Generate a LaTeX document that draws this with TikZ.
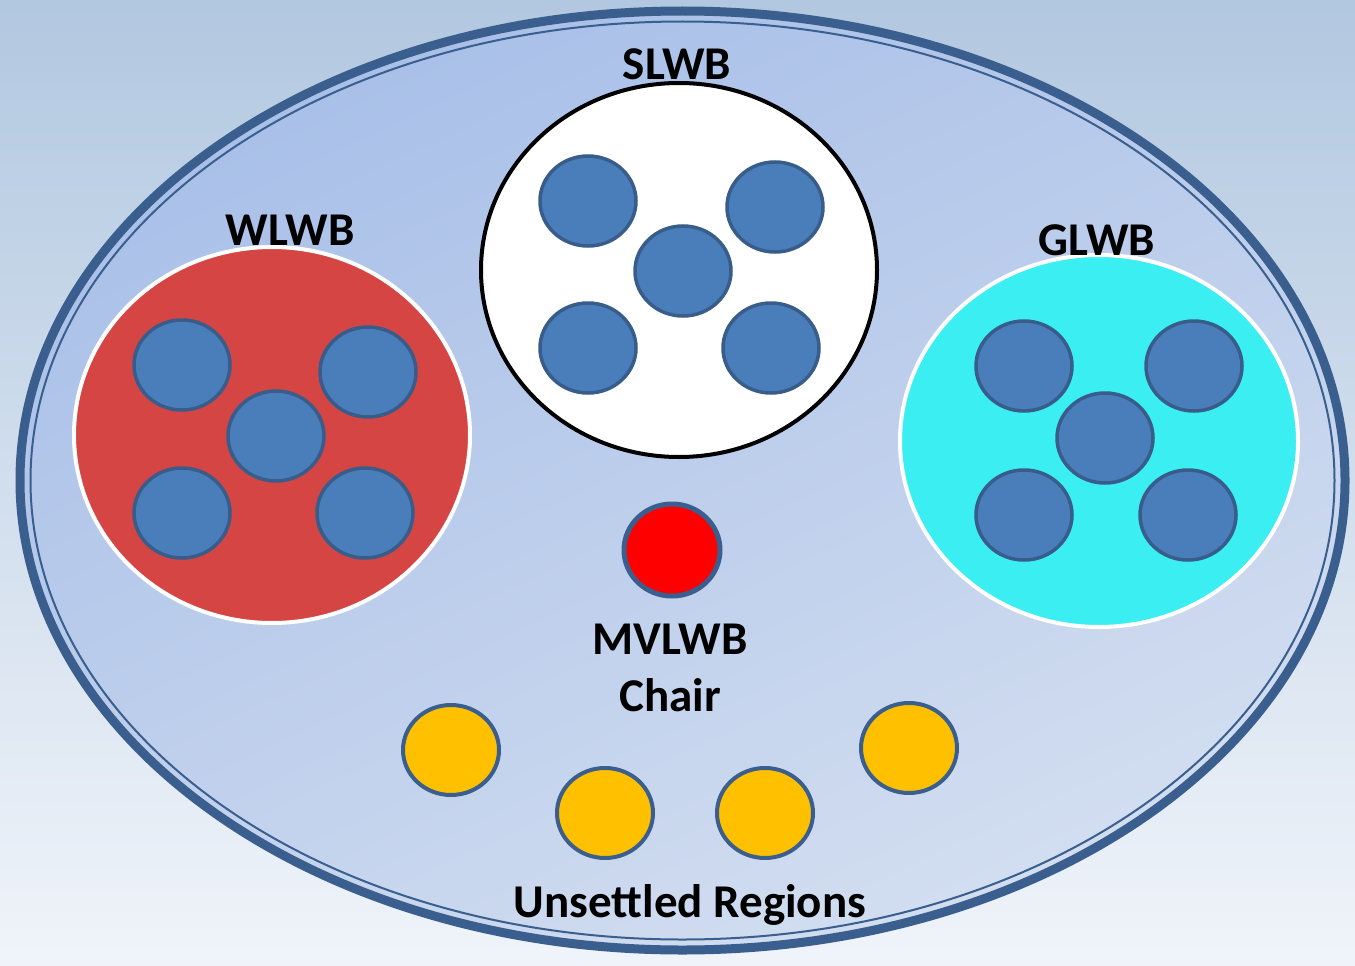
\documentclass[tikz,border=0pt]{standalone}
\usepackage{fontspec}
\setmainfont{Carlito}
\usetikzlibrary{shapes.geometric}
\definecolor{bgtop}{HTML}{B2C8E0}
\definecolor{bgbot}{HTML}{F0F4FA}
\definecolor{ovtop}{HTML}{A8BFE8}
\definecolor{ovbot}{HTML}{D3DEF0}
\definecolor{rimblue}{HTML}{3A5F8E}
\definecolor{dotfill}{HTML}{4A7EBB}
\definecolor{dotline}{HTML}{385D8A}
\definecolor{wlred}{HTML}{D44543}
\definecolor{glcyan}{HTML}{3BEEF2}
\definecolor{amber}{HTML}{FFC000}
\tikzset{
  group/.style={ellipse, minimum width=396, minimum height=376, line width=4, inner sep=0},
  dot/.style={ellipse, minimum width=96, minimum height=90, fill=dotfill, draw=dotline, line width=3.5, inner sep=0},
  region/.style={ellipse, minimum width=96, minimum height=90, fill=amber, draw=rimblue, line width=4, inner sep=0},
  lbl/.style={font=\fontsize{47}{57}\selectfont\bfseries, text=black, inner sep=0, align=center}
}
\begin{document}
\begin{tikzpicture}[x=1pt,y=-1pt]
\useasboundingbox (0,0) rectangle (1355,966);
\shade[top color=bgtop, bottom color=bgbot] (0,0) rectangle (1355,966);
% outer ellipse
\shade[shading=axis, top color=ovtop, bottom color=ovbot, shading angle=25] (682.5,480.5) ellipse [x radius=662.5, y radius=469.5];
\draw[rimblue, line width=9] (682.5,480.5) ellipse [x radius=662.5, y radius=469.5];
\draw[rimblue, line width=2] (682.5,480.5) ellipse [x radius=652, y radius=459];
% groups
\node[group, fill=wlred, draw=white] (wl) at (272,435) {};
\node[group, fill=white, draw=black, minimum width=396, minimum height=374] (sl) at (679,270) {};
\node[group, fill=glcyan, draw=white, minimum width=398, minimum height=372] (gl) at (1099,441) {};
% dots
\node[dot] (s1) at (588,201) {};
\node[dot] (s2) at (775,207) {};
\node[dot] (s3) at (683,271) {};
\node[dot] (s4) at (588,348) {};
\node[dot] (s5) at (771,348) {};
\node[dot] (w1) at (182,365) {};
\node[dot] (w2) at (368,372) {};
\node[dot] (w3) at (276,436) {};
\node[dot] (w4) at (182,513) {};
\node[dot] (w5) at (365,513) {};
\node[dot] (g1) at (1024,366) {};
\node[dot] (g2) at (1194,366) {};
\node[dot] (g3) at (1105,438) {};
\node[dot] (g4) at (1024,515) {};
\node[dot] (g5) at (1188,515) {};
% chair
\node[ellipse, minimum width=96, minimum height=92, fill=red, draw=rimblue, line width=5, inner sep=0] (chair) at (672,550) {};
% regions
\node[region] (r1) at (451,750) {};
\node[region] (r2) at (605,813) {};
\node[region] (r3) at (765,813) {};
\node[region] (r4) at (909,748) {};
% labels
\node[lbl] (lwl) at (290,230) {WLWB};
\node[lbl] (lsl) at (677,64) {SLWB};
\node[lbl] (lgl) at (1097,240) {GLWB};
\node[lbl] (lch) at (670,668) {MVLWB\\Chair};
\node[lbl] (lur) at (690,905) {Unsettled Regions};
\end{tikzpicture}
\end{document}
